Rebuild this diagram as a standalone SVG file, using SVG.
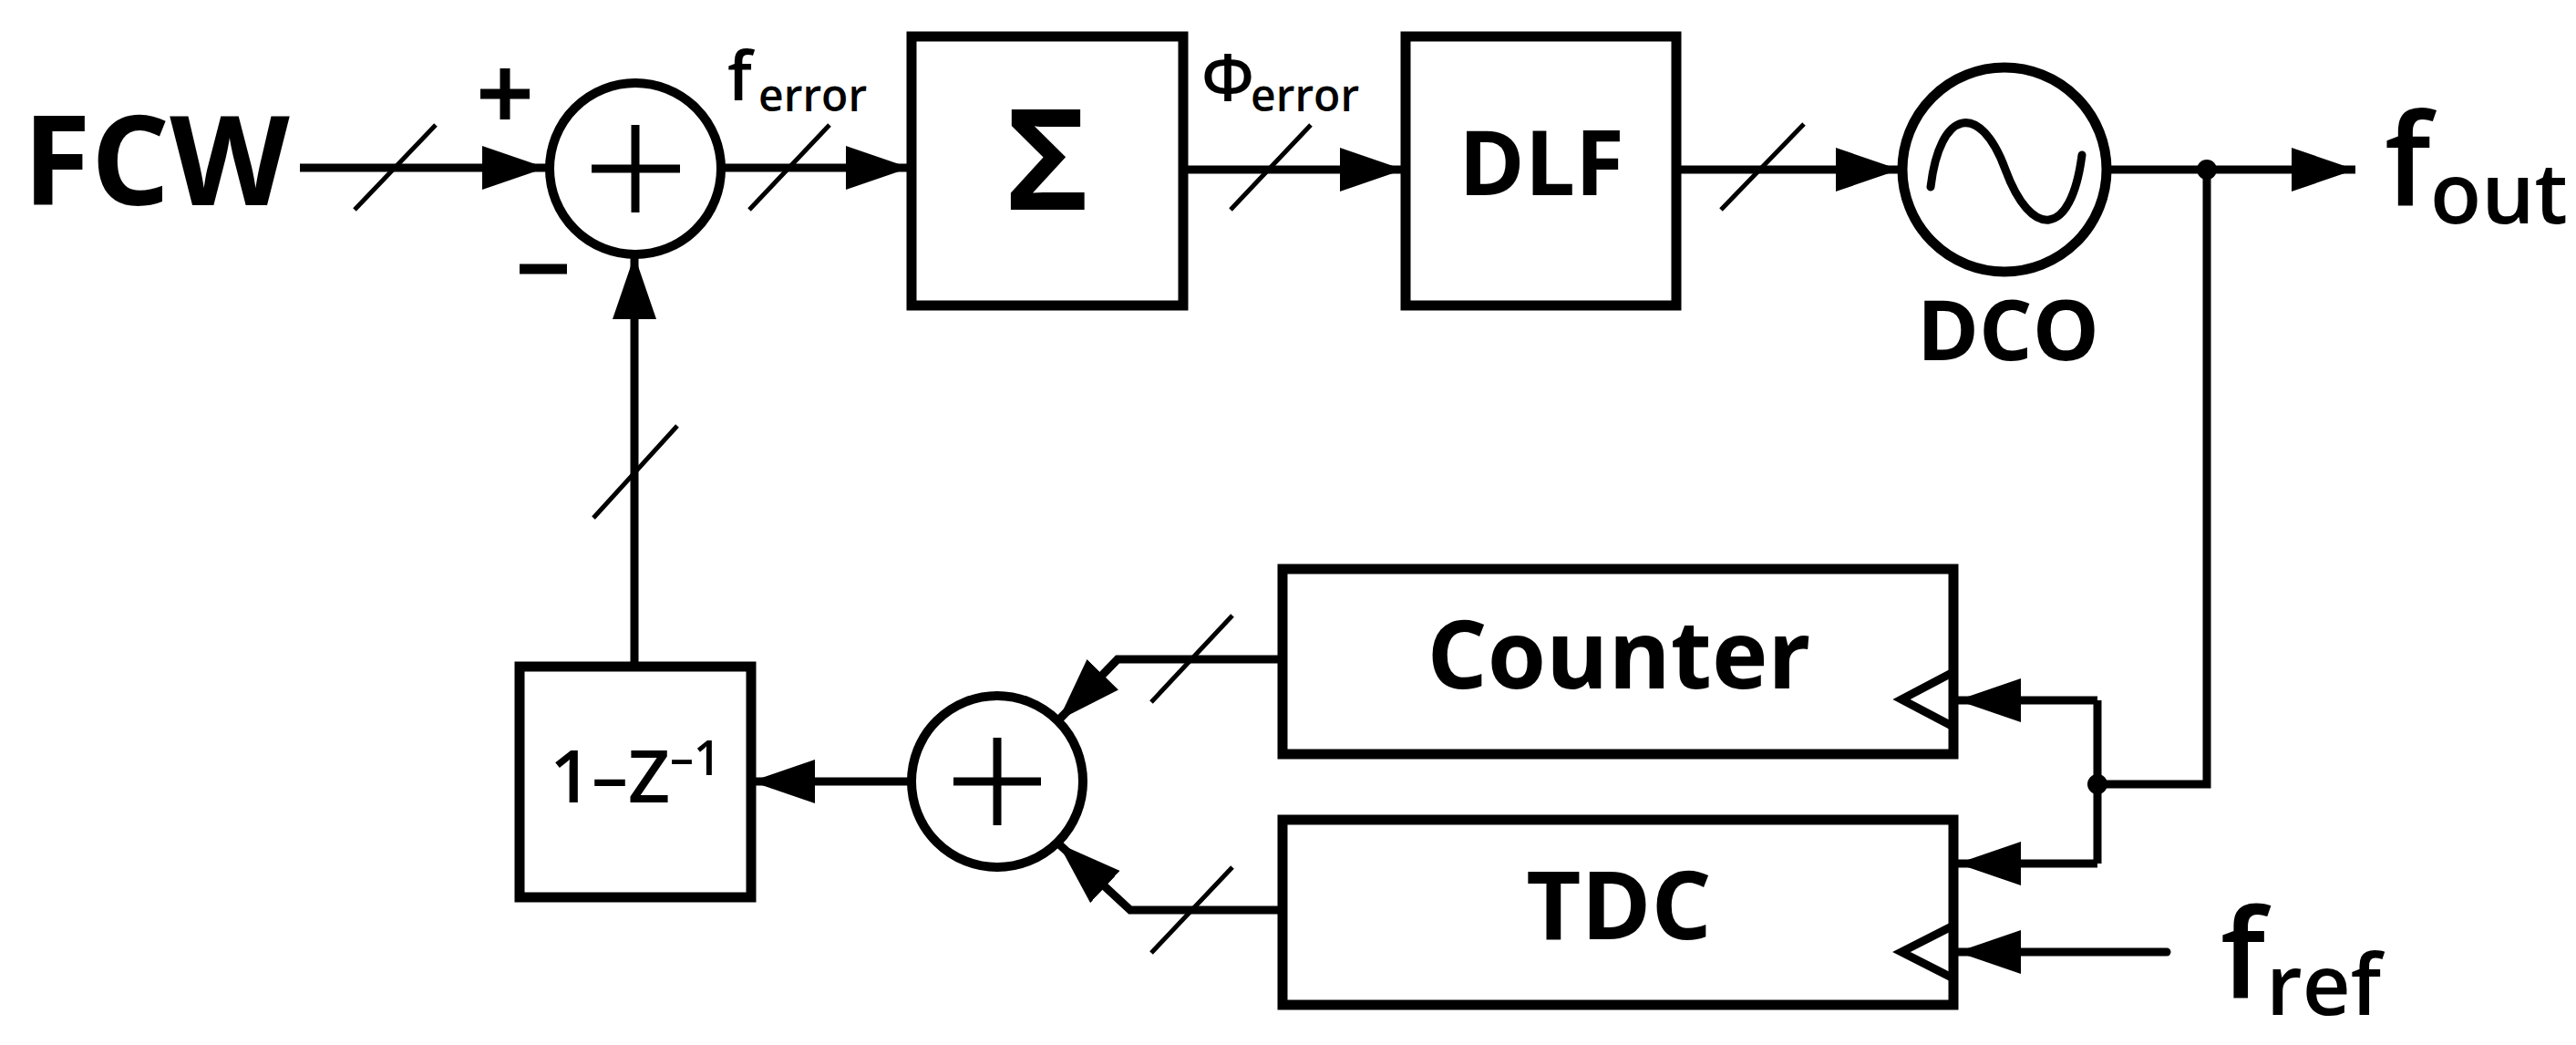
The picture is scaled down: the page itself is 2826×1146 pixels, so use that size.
<svg xmlns="http://www.w3.org/2000/svg" width="2826" height="1146" viewBox="0 0 2826 1146">
<style>
.w{fill:none;stroke:#000;stroke-width:9}
.b{fill:#fff;stroke:#000;stroke-width:11}
.s{fill:none;stroke:#000;stroke-width:5}
.t{font-family:"Open Sans","Liberation Sans",sans-serif;font-weight:bold;fill:#000}
.m{font-family:"Open Sans","Liberation Sans",sans-serif;font-weight:600;fill:#000}
</style>
<defs>
<marker id="a" markerUnits="userSpaceOnUse" markerWidth="72" markerHeight="50" refX="70" refY="24" orient="auto"><path d="M0,0 L70,24 L0,48 z" fill="#000"/></marker>
</defs>
<rect width="2826" height="1146" fill="#fff"/>
<g id="connectors">
<path class="w" d="M329,184 L599,184" marker-end="url(#a)"/>
<path class="w" d="M793,184 L998,184" marker-end="url(#a)"/>
<path class="w" d="M1298,186 L1540,186" marker-end="url(#a)"/>
<path class="w" d="M1839,186 L2084,186" marker-end="url(#a)"/>
<path class="w" d="M2312,186 L2584,186" marker-end="url(#a)"/>
<path class="w" d="M2421,186 L2421,860 L2301,860"/>
<path class="w" d="M2301,768 L2301,947"/>
<path class="w" d="M2301,768 L2147,768" marker-end="url(#a)"/>
<path class="w" d="M2301,947 L2147,947" marker-end="url(#a)"/>
<path class="w" d="M2377,1044 L2147,1044" stroke-linecap="round" marker-end="url(#a)"/>
<circle cx="2421" cy="186" r="11"/>
<circle cx="2301" cy="860" r="11"/>
<path class="w" d="M696,727 L696,280" marker-end="url(#a)"/>
<path class="w" d="M999,857 L824,857" marker-end="url(#a)"/>
<path class="w" d="M1407,723 L1226,723 L1161,790" marker-end="url(#a)"/>
<path class="w" d="M1407,998 L1240,998 L1161,925" marker-end="url(#a)"/>
<path class="s" d="M389,230 L478,137 M822,230 L910,137 M1350,230 L1438,137 M1888,230 L1979,136 M651,568 L743,467 M1263,770 L1352,675 M1263,1045 L1352,951"/>
</g>
<g id="fcw"><text class="t" x="25" y="225" font-size="136">FCW</text></g>
<g id="sum1">
<circle cx="697" cy="185" r="94" fill="#fff" stroke="#000" stroke-width="10"/>
<path d="M649,185 L746,185 M697,137 L697,233" stroke="#000" stroke-width="9"/>
<path d="M527,103 L581,103 M554,75 L554,131 M570,295 L622,295" stroke="#000" stroke-width="11"/>
</g>
<g id="ferror"><text class="m" x="798" y="110" font-size="74">f</text><text class="m" x="832" y="122" font-size="48">error</text></g>
<g id="phierror"><text class="m" x="1318" y="110" font-size="70">Φ</text><text class="m" x="1372" y="122" font-size="48">error</text></g>
<g id="sigma"><rect class="b" x="1000" y="40" width="298" height="295"/><text class="t" x="1149" y="230" font-size="155" text-anchor="middle">Σ</text></g>
<g id="dlf"><rect class="b" x="1542" y="40" width="297" height="295"/><text class="t" x="1691" y="214" font-size="98" text-anchor="middle">DLF</text></g>
<g id="dco">
<circle cx="2199" cy="186" r="112" fill="#fff" stroke="#000" stroke-width="11"/>
<path d="M2118,205 C2128,120 2172,110 2200,186 S2272,262 2284,170" fill="none" stroke="#000" stroke-width="9" stroke-linecap="round"/>
<text class="t" x="2203" y="395" font-size="92" text-anchor="middle">DCO</text>
</g>
<g id="fout"><text class="m" x="2616" y="225" font-size="140">f</text><text class="m" x="2666" y="245" font-size="92">out</text></g>
<g id="counter"><rect class="b" x="1407" y="624" width="736" height="203"/><path class="w" d="M2143,737 L2086,767 L2143,797"/><text class="t" x="1776" y="755" font-size="104" text-anchor="middle">Counter</text></g>
<g id="tdc"><rect class="b" x="1407" y="899" width="736" height="203"/><path class="w" d="M2143,1015 L2086,1044 L2143,1073"/><text class="t" x="1776" y="1030" font-size="104" text-anchor="middle">TDC</text></g>
<g id="fref"><text class="m" x="2436" y="1095" font-size="136">f</text><text class="m" x="2486" y="1113" font-size="92">ref</text></g>
<g id="sum2">
<circle cx="1094" cy="857" r="94" fill="#fff" stroke="#000" stroke-width="10"/>
<path d="M1046,857 L1142,857 M1094,809 L1094,905" stroke="#000" stroke-width="9"/>
</g>
<g id="diff"><rect class="b" x="570" y="731" width="254" height="253"/><text class="m" x="697" y="880" font-size="80" text-anchor="middle">1–Z<tspan font-size="52" dy="-30">–1</tspan></text></g>
</svg>
